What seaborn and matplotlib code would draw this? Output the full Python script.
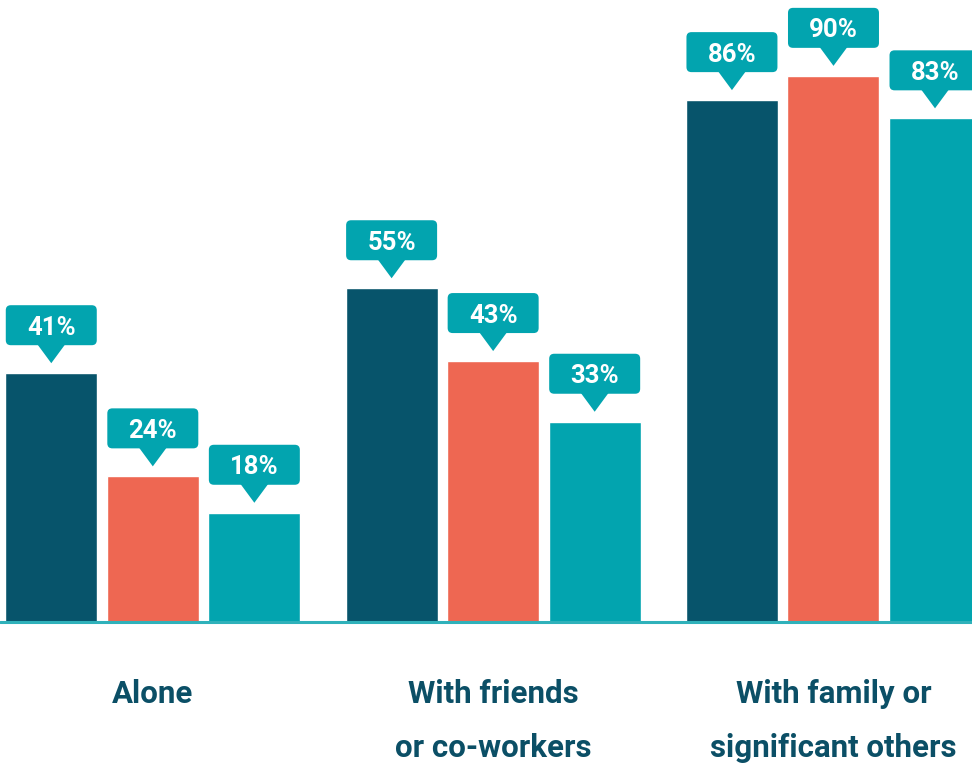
import numpy as np
import pandas as pd
import matplotlib.pyplot as plt
import seaborn as sns
from matplotlib.patches import FancyBboxPatch, Polygon
from matplotlib.transforms import IdentityTransform

# ==============================
# Dados
# ==============================
categories = ["Alone", "With friends\nor co-workers", "With family or\nsignificant others"]
series = ["A", "B", "C"]
values_a = [41, 55, 86]
values_b = [24, 43, 90]
values_c = [18, 33, 83]
colors = ["#07546b", "#ee6752", "#02a4af"]
navy = "#0b4f66"
teal = "#02a4af"

df = pd.DataFrame({
    "cat": categories * 3,
    "serie": [s for s in series for _ in categories],
    "valor": values_a + values_b + values_c,
})

# ==============================
# Figura
# ==============================
sns.set_theme(style="white")
plt.rcParams["font.family"] = ["Roboto", "DejaVu Sans"]

W, H = 972, 767
fig = plt.figure(figsize=(W / 100, H / 100), dpi=100)
ax = fig.add_axes([0, 1 - 622 / H, 1, 622 / H])

sns.barplot(data=df, x="cat", y="valor", hue="serie", order=categories,
            hue_order=series, palette=colors, width=0.895, gap=0.094,
            saturation=1, legend=False, ax=ax)

ax.set_xlim(-0.449, 2.407)
ax.set_ylim(0, 102.5)
ax.axhline(0, color="#2fb1ba", lw=2.2, zorder=5, clip_on=False)
sns.despine(ax=ax, left=True, bottom=True, top=True, right=True)
ax.set_yticks([])
ax.set_xlabel("")
ax.set_ylabel("")
ax.tick_params(axis="x", length=0, pad=41)
ax.set_xticks(range(len(categories)))
ax.set_xticklabels(categories, fontsize=22.5, fontweight="bold", color=navy,
                   linespacing=2.02)
ax.set_facecolor("white")

# ==============================
# Balões com os valores
# ==============================
fig.canvas.draw()
for bar in ax.patches:
    h = bar.get_height()
    if np.isnan(h) or h <= 0:
        continue
    x0 = bar.get_x()
    x1 = x0 + bar.get_width()
    (px0, ptop), = ax.transData.transform([(x0, h)])
    (px1, _), = ax.transData.transform([(x1, h)])
    cx = (px0 + px1) / 2
    box_bottom = ptop + 28
    box_h = 40
    box = FancyBboxPatch((px0 + 0.5, box_bottom), (px1 - px0) - 1, box_h,
                         boxstyle="round,pad=0,rounding_size=5",
                         transform=IdentityTransform(), facecolor=teal,
                         edgecolor="none", clip_on=False, zorder=6)
    fig.add_artist(box)
    tri = Polygon([(cx - 14, box_bottom + 1), (cx + 14, box_bottom + 1),
                   (cx, ptop + 10)], closed=True, transform=IdentityTransform(),
                  facecolor=teal, edgecolor="none", zorder=6)
    fig.add_artist(tri)
    fig.text(cx / W, (box_bottom + box_h / 2) / H, f"{h:.0f}%", ha="center",
             va="center_baseline", fontsize=18.5, fontweight="bold",
             color="white", zorder=7)

fig.savefig("out.png", dpi=100, facecolor="white")
